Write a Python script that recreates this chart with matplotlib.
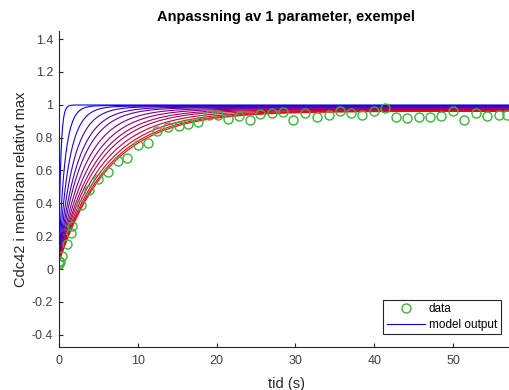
import numpy as np
import matplotlib
matplotlib.use("Agg")
import matplotlib.pyplot as plt

plt.rcParams['font.family'] = ['Liberation Sans', 'DejaVu Sans']

# measured data
t_data = [0, 0.1, 0.2, 0.4, 1.0, 1.5, 1.7, 2.8, 3.9, 5.0, 6.2, 7.55, 8.7, 10.0, 11.3,
          12.5, 13.9, 15.2, 16.4, 17.7, 19.0, 20.2, 21.5, 22.9, 24.2, 25.5, 27.0,
          28.4, 29.7, 31.2, 32.7, 34.2, 35.6, 37.0, 38.5, 39.9, 41.4, 42.8, 44.2,
          45.7, 47.1, 48.5, 50.0, 51.4, 52.9, 54.3, 55.8, 56.8]
y_data = [0.03, 0.05, 0.04, 0.08, 0.155, 0.22, 0.26, 0.39, 0.48, 0.55, 0.59, 0.657,
          0.677, 0.753, 0.765, 0.843, 0.863, 0.872, 0.88, 0.897, 0.94, 0.94, 0.913,
          0.933, 0.905, 0.946, 0.951, 0.956, 0.909, 0.95, 0.923, 0.937, 0.962, 0.948,
          0.94, 0.962, 0.978, 0.927, 0.919, 0.925, 0.925, 0.932, 0.962, 0.907, 0.95,
          0.932, 0.94, 0.94]

# model parameter values (one curve per value), fixed loss rate and start value
k_on = [4.0, 1.29, 0.77, 0.545, 0.42, 0.35, 0.29, 0.25, 0.22, 0.20, 0.18, 0.165, 0.155, 0.149]
k_off = 0.0062
y_start = 0.04

xticks = [0, 10, 20, 30, 40, 50]
yticks = [-0.4, -0.2, 0, 0.2, 0.4, 0.6, 0.8, 1.0, 1.2, 1.4]
ytick_labels = ['-0.4', '-0.2', '0', '0.2', '0.4', '0.6', '0.8', '1', '1.2', '1.4']

fig = plt.figure(figsize=(5.1, 3.9), dpi=100)
ax = fig.add_axes([0.1151, 0.111, 0.8927, 0.8095])

t_model = np.linspace(0, 60, 1201)
n = len(k_on)
lines = []
for i, k in enumerate(k_on):
    r = k + k_off
    ss = k / r
    y = ss * (1 - np.exp(-r * t_model)) + y_start * np.exp(-r * t_model)
    f = i / (n - 1)
    ln, = ax.plot(t_model, y, color=(f, 0, 1 - f), lw=0.8)
    lines.append(ln)

dots, = ax.plot(t_data, y_data, 'o', mfc='none', mec='#3cb43c', ms=6.5, mew=1.0)

ax.set_xlim(0, 57.7)
ax.set_ylim(-0.473, 1.449)
ax.set_xticks(xticks)
ax.set_yticks(yticks)
ax.set_yticklabels(ytick_labels)
for s in ['top', 'right']:
    ax.spines[s].set_visible(False)
for s in ['left', 'bottom']:
    ax.spines[s].set_color('#262626')
    ax.spines[s].set_linewidth(0.8)
ax.tick_params(direction='in', length=3, width=0.8, colors='#262626', labelsize=9)
ax.tick_params(axis='x', pad=6)
ax.tick_params(axis='y', pad=4)
for lab in ax.get_xticklabels() + ax.get_yticklabels():
    lab.set_color('#404040')

ax.set_title('Anpassning av 1 parameter, exempel', fontsize=10.5, fontweight='bold', pad=7)
ax.set_xlabel('tid (s)', fontsize=10.5, color='#262626', labelpad=7)
ax.set_ylabel('Cdc42 i membran relativt max', fontsize=10.5, color='#262626', labelpad=3)

leg = ax.legend([dots, lines[0]], ['data', 'model output'], loc='lower right',
                bbox_to_anchor=(500.7 / 510, (390 - 334.3) / 390),
                bbox_transform=fig.transFigure, fontsize=8.5, fancybox=False,
                framealpha=1, edgecolor='#262626', borderpad=0.3, borderaxespad=0,
                handlelength=3.2, handletextpad=0.35, labelspacing=0.3)
leg.get_frame().set_linewidth(0.8)
leg.legend_handles[1].set_color('blue')

fig.savefig('out.png', dpi=100)
